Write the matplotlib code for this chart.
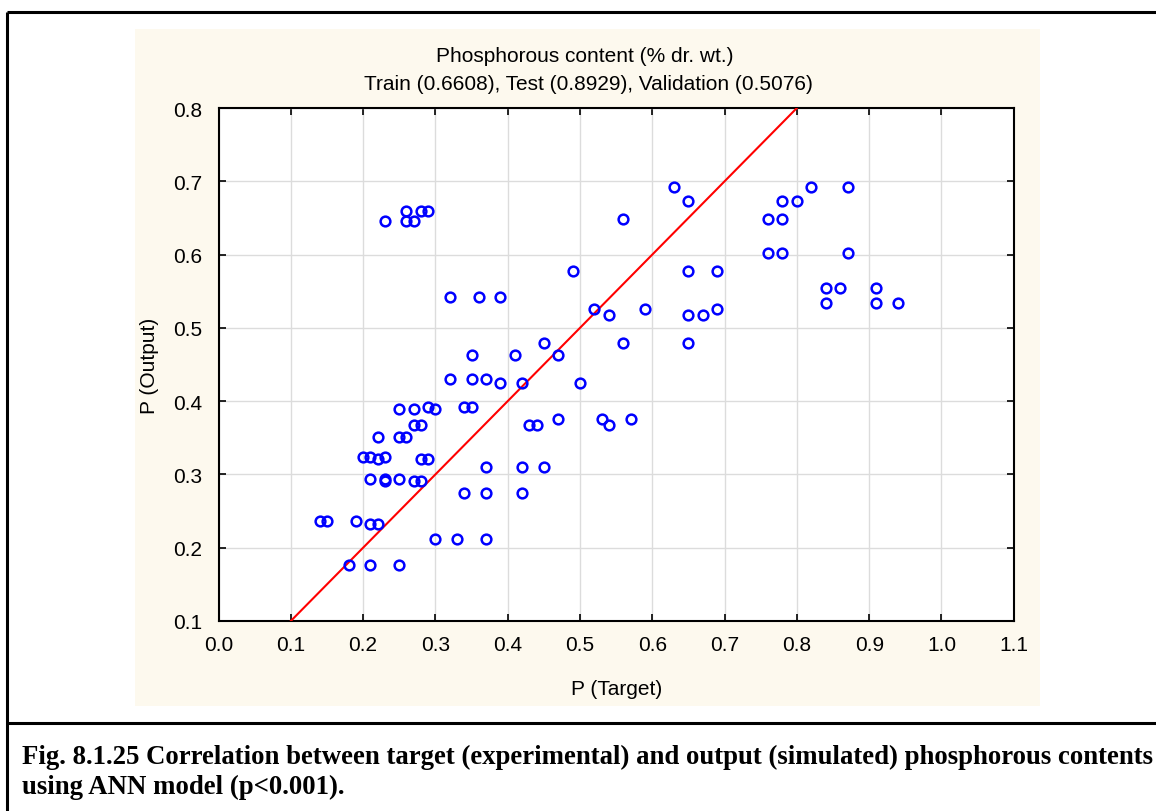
import matplotlib
matplotlib.use("Agg")
import matplotlib.pyplot as plt
from matplotlib.patches import Rectangle
from matplotlib.lines import Line2D

# Data
target = [0.23, 0.26, 0.26, 0.27, 0.28, 0.29, 0.32, 0.32,
          0.25, 0.27, 0.29, 0.30, 0.27, 0.28, 0.22, 0.25, 0.26,
          0.20, 0.21, 0.22, 0.23, 0.28, 0.29,
          0.21, 0.23, 0.23, 0.25, 0.27, 0.28,
          0.14, 0.15, 0.19, 0.21, 0.22, 0.30, 0.33, 0.18, 0.21, 0.25,
          0.63, 0.65, 0.56, 0.49, 0.65, 0.69, 0.36, 0.39,
          0.52, 0.54, 0.59, 0.65, 0.67, 0.69,
          0.45, 0.56, 0.65, 0.35, 0.41, 0.47,
          0.35, 0.37, 0.39, 0.42, 0.50, 0.34, 0.35,
          0.47, 0.53, 0.54, 0.57, 0.43, 0.44,
          0.37, 0.42, 0.45, 0.34, 0.37, 0.42, 0.37,
          0.82, 0.87, 0.78, 0.80, 0.76, 0.78, 0.76, 0.78, 0.87,
          0.84, 0.86, 0.91, 0.84, 0.91, 0.94]
output = [0.646, 0.660, 0.646, 0.646, 0.660, 0.660, 0.542, 0.430,
          0.389, 0.389, 0.392, 0.389, 0.367, 0.367, 0.351, 0.351, 0.351,
          0.324, 0.324, 0.321, 0.324, 0.321, 0.321,
          0.294, 0.294, 0.291, 0.294, 0.291, 0.291,
          0.236, 0.236, 0.236, 0.233, 0.233, 0.212, 0.212, 0.176, 0.176, 0.176,
          0.692, 0.673, 0.649, 0.578, 0.578, 0.578, 0.542, 0.542,
          0.526, 0.518, 0.526, 0.518, 0.518, 0.526,
          0.480, 0.480, 0.480, 0.463, 0.463, 0.463,
          0.430, 0.430, 0.425, 0.425, 0.425, 0.392, 0.392,
          0.376, 0.376, 0.368, 0.376, 0.368, 0.368,
          0.310, 0.310, 0.310, 0.275, 0.275, 0.275, 0.212,
          0.692, 0.692, 0.673, 0.673, 0.649, 0.649, 0.602, 0.602, 0.602,
          0.554, 0.554, 0.554, 0.534, 0.534, 0.534]

x_ticks = [0.0, 0.1, 0.2, 0.3, 0.4, 0.5, 0.6, 0.7, 0.8, 0.9, 1.0, 1.1]
y_ticks = [0.1, 0.2, 0.3, 0.4, 0.5, 0.6, 0.7, 0.8]
title1 = "Phosphorous content (% dr. wt.)"
title2 = "Train (0.6608), Test (0.8929), Validation (0.5076)"
xlabel = "P (Target)"
ylabel = "P (Output)"
caption1 = "Fig. 8.1.25 Correlation between target (experimental) and output (simulated) phosphorous contents"
caption2 = "using ANN model (p<0.001)."

W, H = 1156, 812
fig = plt.figure(figsize=(W / 100, H / 100), dpi=100)
fig.patch.set_facecolor("white")

def fx(px):
    return px / W

def fy(py):
    return 1 - py / H

FS = 15

# cream panel
fig.patches.append(Rectangle((fx(135), fy(707)), (1040 - 135) / W, (707 - 30) / H,
                             transform=fig.transFigure, facecolor="#fdf9ee",
                             edgecolor="none", zorder=-5))
# border lines (table-like)
for (x0, y0, x1, y1) in [(7, 13, 1156, 13), (7, 13, 7, 812), (7, 724, 1156, 724)]:
    fig.lines.append(Line2D([fx(x0), fx(x1)], [fy(y0), fy(y1)], transform=fig.transFigure,
                            color="black", lw=2.2, solid_capstyle="butt", zorder=-4))

ax = fig.add_axes([fx(218.5), fy(622), (1013.8 - 218.5) / W, (622 - 109) / H])
ax.set_zorder(5)
ax.set_facecolor("white")
ax.set_xlim(0.0, 1.1)
ax.set_ylim(0.1, 0.8)
ax.set_xticks(x_ticks)
ax.set_yticks(y_ticks)
ax.set_xticklabels([f"{v:.1f}" for v in x_ticks])
ax.set_yticklabels([f"{v:.1f}" for v in y_ticks])
ax.grid(True, color="#dcdcdc", lw=1.0)
ax.set_axisbelow(True)
ax.tick_params(direction="in", length=5, width=1.2, top=True, right=True,
               labelsize=FS, colors="black")
ax.tick_params(axis="x", pad=10)
ax.tick_params(axis="y", pad=12)
for lbl in ax.get_xticklabels() + ax.get_yticklabels():
    lbl.set_family("Liberation Sans")
for s in ax.spines.values():
    s.set_linewidth(1.5)
    s.set_color("black")

ax.plot([0.0, 1.1], [0.0, 1.1], color="#ff0000", lw=1.5, zorder=3)
ax.plot(target, output, linestyle="none", marker="o", ms=7, mfc="none",
        mec="#0000ff", mew=1.8, zorder=4)

ax.set_xlabel(xlabel, fontsize=FS, family="Liberation Sans", labelpad=18)
ax.set_ylabel(ylabel, fontsize=FS, family="Liberation Sans", labelpad=10)

fig.text(fx(585), fy(56), title1, ha="center", va="center", fontsize=FS, family="Liberation Sans")
fig.text(fx(588), fy(85), title2, ha="center", va="center", fontsize=FS, family="Liberation Sans")

fig.text(fx(22), fy(757), caption1, ha="left", va="center", fontsize=19.3,
         family="Liberation Serif", weight="bold")
fig.text(fx(22), fy(787), caption2, ha="left", va="center", fontsize=19.3,
         family="Liberation Serif", weight="bold")

fig.savefig("out.png", dpi=100)
